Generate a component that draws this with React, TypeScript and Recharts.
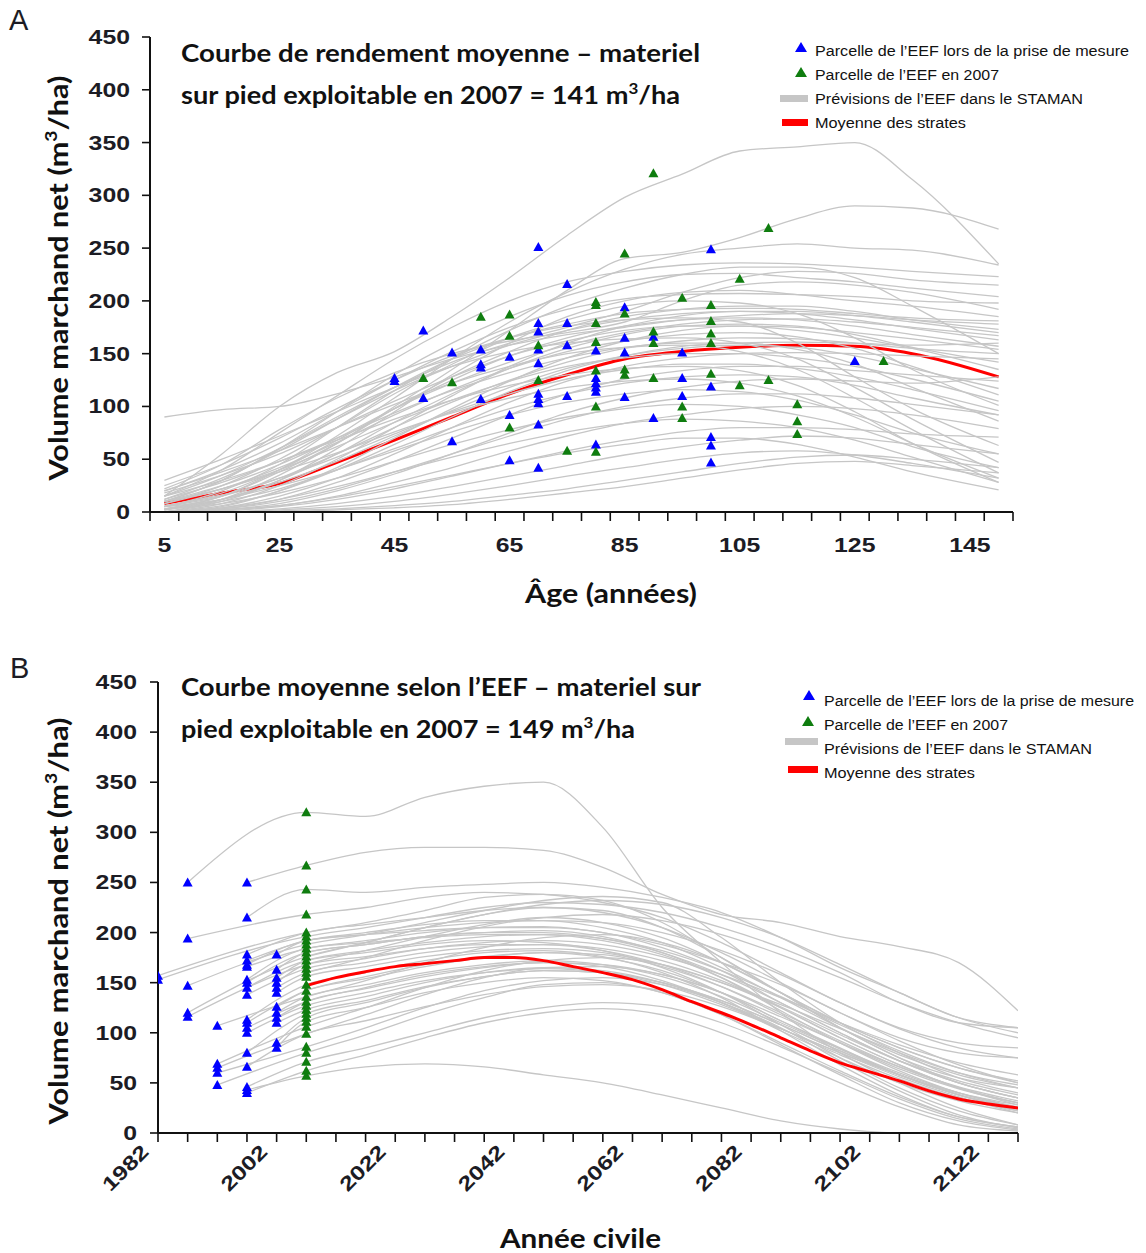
import React from "react";
import { ComposedChart, Line, Scatter, XAxis, YAxis } from "recharts";

// ---------- Panel A : volume by stand age ----------
const ageGrid = [5, 15, 25, 35, 45, 55, 65, 75, 85, 95, 105, 115, 125, 135, 150];

// STAMAN projections, one row per stand, values at ageGrid
const ageCurves: number[][] = [
  [15, 55, 100, 132, 152, 185, 222, 262, 298, 320, 342, 346, 350, 315, 235],
  [0, 12, 35, 65, 100, 135, 172, 210, 240, 246, 260, 278, 290, 288, 268],
  [2, 15, 40, 72, 108, 145, 180, 208, 230, 244, 250, 254, 250, 248, 234],
  [15, 40, 75, 110, 145, 175, 200, 218, 228, 234, 236, 235, 232, 228, 223],
  [10, 30, 60, 95, 130, 160, 185, 205, 218, 225, 226, 222, 218, 212, 204],
  [5, 20, 45, 80, 115, 145, 172, 195, 212, 225, 232, 232, 222, 195, 150],
  [20, 40, 65, 95, 125, 152, 175, 192, 202, 206, 207, 206, 204, 200, 198],
  [0, 10, 30, 60, 95, 130, 160, 185, 200, 208, 210, 206, 200, 195, 185],
  [8, 25, 50, 80, 112, 140, 165, 182, 195, 200, 198, 188, 165, 135, 101],
  [12, 32, 58, 88, 118, 145, 165, 178, 188, 192, 193, 192, 188, 184, 181],
  [3, 15, 38, 65, 98, 128, 152, 172, 185, 192, 195, 195, 190, 182, 173],
  [15, 35, 60, 88, 115, 138, 158, 172, 182, 188, 190, 188, 182, 174, 163],
  [0, 8, 25, 50, 80, 110, 138, 160, 176, 186, 190, 190, 186, 180, 170],
  [25, 45, 70, 98, 125, 148, 165, 176, 182, 184, 180, 160, 128, 98, 63],
  [5, 18, 40, 68, 98, 125, 148, 165, 176, 182, 184, 182, 176, 168, 157],
  [10, 25, 45, 70, 98, 122, 142, 158, 170, 178, 182, 183, 180, 175, 167],
  [2, 12, 30, 55, 85, 112, 136, 155, 168, 176, 178, 176, 168, 156, 142],
  [18, 35, 55, 80, 105, 128, 148, 162, 172, 176, 176, 172, 165, 155, 135],
  [0, 5, 20, 42, 70, 98, 124, 146, 162, 172, 176, 175, 170, 164, 154],
  [8, 22, 42, 66, 92, 116, 136, 152, 162, 168, 170, 166, 155, 138, 111],
  [30, 50, 72, 95, 118, 138, 152, 160, 164, 165, 160, 145, 118, 88, 47],
  [5, 15, 32, 55, 80, 104, 125, 142, 155, 162, 165, 164, 160, 155, 150],
  [12, 28, 48, 70, 94, 115, 132, 146, 156, 160, 160, 154, 140, 118, 86],
  [0, 6, 20, 40, 64, 90, 114, 134, 148, 157, 160, 161, 160, 158, 160],
  [20, 38, 58, 80, 102, 122, 138, 150, 156, 158, 152, 135, 108, 78, 37],
  [3, 12, 28, 48, 72, 96, 118, 136, 148, 155, 158, 156, 148, 136, 117],
  [10, 22, 40, 62, 85, 106, 124, 138, 146, 150, 150, 146, 138, 126, 105],
  [0, 4, 15, 32, 55, 80, 104, 124, 138, 146, 150, 151, 150, 148, 145],
  [15, 30, 48, 68, 88, 106, 120, 130, 136, 138, 134, 120, 95, 65, 28],
  [6, 16, 32, 52, 74, 95, 112, 126, 135, 140, 140, 136, 128, 116, 96],
  [0, 3, 12, 28, 48, 70, 92, 112, 126, 134, 138, 138, 134, 130, 124],
  [10, 22, 38, 56, 76, 94, 108, 118, 124, 126, 122, 110, 90, 65, 32],
  [2, 10, 22, 40, 60, 80, 98, 112, 122, 128, 130, 128, 120, 108, 92],
  [0, 2, 8, 20, 36, 55, 75, 94, 108, 118, 124, 126, 124, 122, 128],
  [5, 12, 25, 40, 58, 76, 92, 104, 112, 116, 114, 106, 92, 75, 55],
  [0, 3, 10, 22, 38, 55, 72, 88, 100, 108, 112, 112, 108, 102, 92],
  [3, 8, 18, 32, 48, 64, 78, 90, 98, 102, 100, 92, 80, 62, 42],
  [0, 2, 6, 15, 28, 42, 58, 72, 84, 92, 98, 100, 98, 92, 79],
  [0, 4, 12, 24, 38, 52, 65, 76, 84, 88, 86, 80, 68, 52, 28],
  [0, 1, 5, 12, 22, 34, 46, 58, 68, 76, 80, 80, 78, 74, 71],
  [0, 2, 6, 14, 24, 35, 46, 56, 64, 70, 70, 64, 52, 38, 21],
  [0, 0, 3, 8, 15, 24, 34, 44, 54, 62, 68, 72, 70, 64, 55],
  [0, 0, 2, 5, 10, 17, 25, 34, 42, 50, 56, 58, 54, 46, 32],
  [0, 0, 1, 3, 6, 10, 16, 22, 30, 38, 46, 52, 54, 50, 42],
  [0, 0, 0, 2, 4, 7, 12, 18, 24, 32, 40, 46, 48, 44, 37],
  [90, 97, 100, 112, 128, 145, 158, 168, 175, 182, 186, 188, 186, 182, 178],
  [22, 45, 78, 108, 132, 150, 162, 170, 180, 200, 215, 218, 215, 208, 192],
  [10, 30, 60, 90, 118, 142, 160, 175, 190, 208, 222, 228, 226, 220, 215],
];

// mean of the strata, values at ageGrid
const ageMean = [8, 18, 27, 47, 68, 90, 112, 130, 145, 152, 156, 158, 157, 150, 128];

// stand at time of measurement: [age, volume]
const ageBlue: [number, number][] = [
  [45, 127], [45, 124], [50, 172], [50, 108], [55, 151], [55, 67],
  [60, 154], [60, 140], [60, 137], [60, 107], [65, 147], [65, 92], [65, 49],
  [70, 251], [70, 179], [70, 171], [70, 154], [70, 141], [70, 112], [70, 107], [70, 103], [70, 83], [70, 42],
  [75, 216], [75, 179], [75, 158], [75, 110],
  [80, 153], [80, 127], [80, 122], [80, 118], [80, 114], [80, 64],
  [85, 194], [85, 165], [85, 151], [85, 109], [90, 166], [90, 89],
  [95, 151], [95, 127], [95, 110], [100, 249], [100, 119], [100, 71], [100, 63], [100, 47],
  [125, 143],
];

// stand in 2007: [age, volume]
const ageGreen: [number, number][] = [
  [50, 127], [55, 123], [60, 185], [65, 187], [65, 167], [65, 80], [70, 158], [70, 125], [75, 58],
  [80, 199], [80, 196], [80, 179], [80, 161], [80, 134], [80, 100], [80, 57],
  [85, 245], [85, 188], [85, 135], [85, 130], [90, 321], [90, 171], [90, 160], [90, 127],
  [95, 203], [95, 100], [95, 89], [100, 196], [100, 181], [100, 169], [100, 160], [100, 131],
  [105, 221], [105, 120], [110, 269], [110, 125], [115, 102], [115, 86], [115, 74], [130, 143],
];

const ageLabels = [5, 25, 45, 65, 85, 105, 125, 145];
const volTicks = [0, 50, 100, 150, 200, 250, 300, 350, 400, 450];

// ---------- Panel B : volume by calendar year ----------
const yearGrid = [2007, 2017, 2027, 2037, 2047, 2057, 2067, 2077, 2087, 2097, 2107, 2117, 2127];

// year of the first point of each curve (the measurement)
const yearStarts = [
  1987, 1997, 1997, 1987, 1982, 1982, 1987, 1987, 1987,
  1992, 1992, 1992, 1992, 1992,
  1997, 1997, 1997, 1997, 1997, 1997, 1997, 1997, 1997, 1997, 1997, 1997, 1997, 1997, 1997, 1997, 1997,
  2002, 2002, 2002, 2002, 2002, 2002, 2002, 2002, 2002, 2002, 2002, 2002,
  2007, 2007,
];

// first value at the start year, then values at yearGrid
const yearCurves: number[][] = [
  [250, 320, 316, 335, 346, 350, 305, 225, 170, 120, 80, 50, 25, 8],
  [250, 267, 280, 285, 285, 282, 265, 238, 218, 210, 196, 186, 170, 122],
  [215, 243, 240, 245, 248, 250, 245, 235, 220, 195, 165, 140, 115, 105],
  [194, 218, 225, 235, 240, 238, 230, 215, 190, 160, 130, 105, 90, 85],
  [157, 200, 210, 222, 235, 238, 232, 210, 175, 140, 110, 85, 65, 50],
  [153, 196, 205, 215, 225, 230, 228, 220, 205, 185, 160, 130, 110, 105],
  [147, 188, 198, 210, 222, 232, 236, 230, 195, 150, 110, 80, 55, 40],
  [120, 176, 190, 205, 218, 225, 222, 205, 175, 140, 105, 75, 55, 45],
  [116, 168, 182, 196, 208, 215, 210, 195, 170, 140, 110, 85, 65, 52],
  [107, 136, 152, 170, 185, 195, 198, 190, 170, 140, 105, 75, 50, 35],
  [69, 106, 125, 145, 162, 172, 175, 168, 150, 125, 95, 68, 45, 30],
  [65, 99, 118, 138, 155, 165, 166, 158, 140, 112, 85, 58, 38, 25],
  [60, 86, 105, 125, 142, 152, 155, 148, 130, 105, 72, 42, 18, 5],
  [48, 80, 98, 118, 135, 148, 150, 140, 118, 88, 58, 30, 12, 3],
  [178, 200, 208, 215, 222, 225, 220, 205, 180, 150, 120, 95, 80, 75],
  [172, 192, 200, 208, 212, 212, 205, 190, 165, 135, 105, 78, 58, 45],
  [168, 192, 198, 202, 205, 205, 200, 185, 162, 130, 100, 72, 50, 35],
  [166, 184, 192, 200, 205, 206, 200, 188, 170, 148, 120, 92, 68, 50],
  [153, 184, 190, 195, 198, 198, 192, 178, 155, 125, 95, 68, 45, 28],
  [150, 180, 188, 196, 200, 202, 196, 180, 155, 122, 90, 62, 40, 25],
  [145, 172, 180, 188, 192, 190, 182, 165, 140, 108, 75, 45, 22, 8],
  [138, 164, 174, 184, 190, 192, 188, 176, 158, 135, 110, 88, 70, 58],
  [113, 148, 160, 172, 180, 182, 176, 160, 135, 102, 68, 38, 16, 6],
  [110, 142, 156, 168, 176, 180, 175, 162, 140, 112, 84, 58, 38, 24],
  [105, 131, 145, 158, 166, 170, 166, 152, 130, 102, 75, 50, 32, 20],
  [100, 127, 140, 152, 160, 164, 160, 148, 128, 104, 80, 58, 40, 28],
  [80, 119, 132, 146, 156, 162, 160, 150, 132, 108, 82, 58, 38, 22],
  [66, 99, 112, 126, 138, 146, 148, 142, 126, 104, 80, 56, 36, 20],
  [46, 71, 85, 100, 115, 125, 130, 126, 110, 86, 60, 34, 14, 4],
  [43, 57, 66, 69, 66, 58, 50, 38, 25, 12, 4, 0, 0, 0],
  [40, 62, 78, 95, 110, 120, 124, 118, 100, 76, 50, 26, 8, 2],
  [178, 192, 198, 205, 210, 212, 210, 200, 182, 158, 130, 104, 85, 75],
  [163, 180, 188, 196, 200, 200, 194, 180, 158, 130, 100, 72, 50, 35],
  [155, 172, 182, 190, 196, 198, 194, 182, 162, 136, 108, 82, 60, 45],
  [150, 168, 176, 184, 188, 188, 182, 168, 146, 118, 90, 64, 44, 30],
  [145, 160, 170, 180, 186, 188, 184, 172, 152, 126, 98, 72, 52, 38],
  [140, 156, 166, 176, 182, 184, 180, 168, 150, 128, 104, 80, 60, 48],
  [126, 142, 154, 166, 175, 180, 178, 166, 146, 120, 92, 66, 45, 30],
  [120, 136, 148, 160, 168, 172, 168, 156, 136, 110, 84, 60, 40, 26],
  [115, 131, 144, 156, 165, 170, 168, 158, 140, 116, 90, 66, 46, 32],
  [110, 123, 136, 150, 160, 165, 162, 150, 130, 104, 78, 54, 35, 22],
  [90, 115, 130, 145, 156, 162, 160, 150, 132, 108, 82, 58, 38, 24],
  [85, 111, 125, 140, 150, 155, 152, 140, 118, 90, 62, 36, 16, 6],
  [176, 176, 190, 205, 218, 228, 232, 228, 215, 195, 168, 140, 115, 100],
  [160, 160, 175, 192, 206, 215, 218, 212, 198, 178, 155, 130, 110, 95],
];

const yearMeanYears = [
  2007, 2012, 2017, 2022, 2027, 2032, 2037, 2042, 2047, 2052, 2057, 2062, 2067,
  2072, 2077, 2082, 2087, 2092, 2097, 2102, 2107, 2112, 2117, 2122, 2127,
];
const yearMean = [
  147, 155, 161, 166, 169, 172, 175, 175, 172, 166, 160, 153, 143,
  131, 120, 108, 95, 82, 70, 61, 52, 42, 34, 29, 25,
];

const yearBlue: [number, number][] = [
  [1982, 157], [1982, 153],
  [1987, 250], [1987, 194], [1987, 147], [1987, 120], [1987, 116],
  [1992, 107], [1992, 69], [1992, 65], [1992, 60], [1992, 48],
  [1997, 250], [1997, 215], [1997, 178], [1997, 172], [1997, 168], [1997, 166], [1997, 153], [1997, 150],
  [1997, 145], [1997, 138], [1997, 113], [1997, 110], [1997, 105], [1997, 100], [1997, 80], [1997, 66],
  [1997, 46], [1997, 43], [1997, 40],
  [2002, 178], [2002, 163], [2002, 155], [2002, 150], [2002, 145], [2002, 140], [2002, 126], [2002, 120],
  [2002, 115], [2002, 110], [2002, 90], [2002, 85],
];

const yearGreen: [number, number][] = [
  [2007, 320], [2007, 267], [2007, 243], [2007, 218], [2007, 200], [2007, 196], [2007, 192], [2007, 188],
  [2007, 184], [2007, 180], [2007, 176], [2007, 172], [2007, 168], [2007, 164], [2007, 160], [2007, 156],
  [2007, 148], [2007, 142], [2007, 136], [2007, 131], [2007, 127], [2007, 123], [2007, 119], [2007, 115],
  [2007, 111], [2007, 106], [2007, 99], [2007, 86], [2007, 80], [2007, 71], [2007, 62], [2007, 57],
];

const yearLabels = [1982, 2002, 2022, 2042, 2062, 2082, 2102, 2122];

// ---------- shared styling ----------
const GRAY = "#c6c6c6";
const BLUE = "#0000ff";
const GREEN = "#0f7d0f";
const RED = "#ff0000";
const TICK_FONT = "'Liberation Sans', Arial, sans-serif";
const TITLE_FONT = "Lato, 'Open Sans', sans-serif";
const NARROW_FONT = "'Liberation Sans Narrow', 'Liberation Sans', Arial, sans-serif";

const ageMarks = Array.from({ length: 31 }, (_, i) => 2.5 + 5 * i);
const yearMarks = Array.from({ length: 30 }, (_, i) => 1982 + 5 * i);

const toPts = (pairs: [number, number][]) => pairs.map(([x, y]) => ({ x, y }));
const ageSeries = ageCurves.map((vals) => vals.map((v, i) => ({ x: ageGrid[i], y: v })));
const ageMeanPts = ageMean.map((v, i) => ({ x: ageGrid[i], y: v }));
const yearSeries = yearCurves.map((vals, k) =>
  vals.map((v, i) => ({ x: i === 0 ? yearStarts[k] : yearGrid[i - 1], y: v }))
);
const yearMeanPts = yearMean.map((v, i) => ({ x: yearMeanYears[i], y: v }));

const tri = (color: string) => (p: any) => {
  const { cx, cy } = p;
  if (cx == null || cy == null) return <g />;
  return (
    <polygon
      points={`${cx},${cy - 5} ${cx + 5},${cy + 4} ${cx - 5},${cy + 4}`}
      fill={color}
    />
  );
};

const makeVolTick = (rightX: number) => (props: any) => {
  const { y, payload } = props;
  const s = String(payload.value);
  return (
    <text
      x={rightX}
      y={y + 7}
      textAnchor="end"
      fontFamily={TICK_FONT}
      fontWeight={700}
      fontSize={20}
      fill="#1c1c24"
      textLength={s.length * 13.8}
      lengthAdjust="spacingAndGlyphs"
    >
      {s}
    </text>
  );
};

const makeAgeTick = (axisY: number) => (props: any) => {
  const { x, payload } = props;
  const v = payload.value;
  if (ageLabels.includes(v)) {
    const s = String(v);
    return (
      <text
        x={x}
        y={axisY + 40}
        textAnchor="middle"
        fontFamily={TICK_FONT}
        fontWeight={700}
        fontSize={20}
        fill="#1c1c24"
        textLength={s.length * 13.8}
        lengthAdjust="spacingAndGlyphs"
      >
        {s}
      </text>
    );
  }
  return <line x1={x} x2={x} y1={axisY} y2={axisY + 9} stroke="#111" strokeWidth={1.6} />;
};

const makeYearTick = (axisY: number) => (props: any) => {
  const { x, payload } = props;
  const v = payload.value;
  const s = String(v);
  return (
    <g>
      <line x1={x} x2={x} y1={axisY} y2={axisY + 9} stroke="#111" strokeWidth={1.6} />
      {yearLabels.includes(v) && (
        <text
          x={0}
          y={0}
          transform={`translate(${x - 8},${axisY + 20}) rotate(-45)`}
          textAnchor="end"
          fontFamily={TICK_FONT}
          fontWeight={700}
          fontSize={20}
          fill="#1c1c24"
          textLength={56}
          lengthAdjust="spacingAndGlyphs"
        >
          {s}
        </text>
      )}
    </g>
  );
};

function AgeChart() {
  return (
    <ComposedChart width={1146} height={620} margin={{ top: 37, right: 133, left: 90, bottom: 0 }}>
      <XAxis
        type="number"
        dataKey="x"
        domain={[2.5, 152.5]}
        ticks={[...ageMarks, ...ageLabels].sort((a, b) => a - b)}
        interval={0}
        tick={makeAgeTick(512)}
        tickLine={false}
        axisLine={{ stroke: "#111", strokeWidth: 2 }}
        height={108}
        allowDataOverflow
      />
      <YAxis
        type="number"
        dataKey="y"
        domain={[0, 450]}
        ticks={volTicks}
        interval={0}
        width={60}
        tick={makeVolTick(130)}
        tickSize={8}
        tickLine={{ stroke: "#111", strokeWidth: 1.6 }}
        axisLine={{ stroke: "#111", strokeWidth: 2 }}
        allowDataOverflow
      />
      <Line
        data={ageMeanPts}
        dataKey="y"
        type="monotone"
        stroke={RED}
        strokeWidth={3}
        dot={false}
        activeDot={false}
        isAnimationActive={false}
      />
      {ageSeries.map((pts, i) => (
        <Line
          key={"a" + i}
          data={pts}
          dataKey="y"
          type="monotone"
          stroke={GRAY}
          strokeWidth={1.3}
          dot={false}
          activeDot={false}
          isAnimationActive={false}
        />
      ))}
      <Scatter data={toPts(ageBlue)} dataKey="y" shape={tri(BLUE)} isAnimationActive={false} />
      <Scatter data={toPts(ageGreen)} dataKey="y" shape={tri(GREEN)} isAnimationActive={false} />
    </ComposedChart>
  );
}

function YearChart() {
  return (
    <ComposedChart width={1146} height={613} margin={{ top: 42, right: 128, left: 98, bottom: 0 }}>
      <XAxis
        type="number"
        dataKey="x"
        domain={[1982, 2127]}
        ticks={yearMarks}
        interval={0}
        tick={makeYearTick(493)}
        tickLine={false}
        axisLine={{ stroke: "#111", strokeWidth: 2 }}
        height={120}
        allowDataOverflow
      />
      <YAxis
        type="number"
        dataKey="y"
        domain={[0, 450]}
        ticks={volTicks}
        interval={0}
        width={60}
        tick={makeVolTick(137)}
        tickSize={8}
        tickLine={{ stroke: "#111", strokeWidth: 1.6 }}
        axisLine={{ stroke: "#111", strokeWidth: 2 }}
        allowDataOverflow
      />
      {yearSeries.map((pts, i) => (
        <Line
          key={"b" + i}
          data={pts}
          dataKey="y"
          type="monotone"
          stroke={GRAY}
          strokeWidth={1.3}
          dot={false}
          activeDot={false}
          isAnimationActive={false}
        />
      ))}
      <Line
        data={yearMeanPts}
        dataKey="y"
        type="monotone"
        stroke={RED}
        strokeWidth={3}
        dot={false}
        activeDot={false}
        isAnimationActive={false}
      />
      <Scatter data={toPts(yearBlue)} dataKey="y" shape={tri(BLUE)} isAnimationActive={false} />
      <Scatter data={toPts(yearGreen)} dataKey="y" shape={tri(GREEN)} isAnimationActive={false} />
    </ComposedChart>
  );
}

const legendTri = (cx: number, cy: number, color: string) => (
  <polygon points={`${cx},${cy - 6} ${cx + 6},${cy + 4} ${cx - 6},${cy + 4}`} fill={color} />
);

function Overlay() {
  const title = { fontFamily: TITLE_FONT, fontWeight: 700, fontSize: 24, fill: "#111" } as const;
  const leg = { fontFamily: NARROW_FONT, fontSize: 15.5, fill: "#111" } as const;
  const axisTitle = { fontFamily: TITLE_FONT, fontWeight: 700, fontSize: 27, fill: "#111" } as const;
  return (
    <svg
      width={1146}
      height={1253}
      style={{ position: "absolute", left: 0, top: 0, pointerEvents: "none" }}
    >
      {/* panel A */}
      <text x={9} y={30} fontFamily={TICK_FONT} fontSize={29} fill="#1c1c24">A</text>
      <text x={181} y={62} {...title} textLength={519} lengthAdjust="spacingAndGlyphs">
        Courbe de rendement moyenne – materiel
      </text>
      <text x={181} y={104} {...title} textLength={499} lengthAdjust="spacingAndGlyphs">
        sur pied exploitable en 2007 = 141 m<tspan dy={-10} fontSize={15}>3</tspan>
        <tspan dy={10}>/ha</tspan>
      </text>
      {legendTri(801, 48, BLUE)}
      {legendTri(801, 73, GREEN)}
      <rect x={780} y={95} width={28} height={7} fill={GRAY} />
      <rect x={782} y={119} width={26} height={7} fill={RED} />
      <text x={815} y={56} {...leg} textLength={314} lengthAdjust="spacingAndGlyphs">Parcelle de l’EEF lors de la prise de mesure</text>
      <text x={815} y={80} {...leg} textLength={184} lengthAdjust="spacingAndGlyphs">Parcelle de l’EEF en 2007</text>
      <text x={815} y={104} {...leg} textLength={268} lengthAdjust="spacingAndGlyphs">Prévisions de l’EEF dans le STAMAN</text>
      <text x={815} y={128} {...leg} textLength={151} lengthAdjust="spacingAndGlyphs">Moyenne des strates</text>
      <text transform="translate(68,278) rotate(-90)" textAnchor="middle" {...axisTitle} textLength={405} lengthAdjust="spacingAndGlyphs">
        Volume marchand net (m<tspan dy={-11} fontSize={17}>3</tspan>
        <tspan dy={11}>/ha)</tspan>
      </text>
      <text x={525} y={603} {...axisTitle} textLength={172} lengthAdjust="spacingAndGlyphs">Âge (années)</text>

      {/* panel B */}
      <text x={10} y={678} fontFamily={TICK_FONT} fontSize={29} fill="#1c1c24">B</text>
      <text x={181} y={696} {...title} textLength={520} lengthAdjust="spacingAndGlyphs">
        Courbe moyenne selon l’EEF – materiel sur
      </text>
      <text x={181} y={738} {...title} textLength={454} lengthAdjust="spacingAndGlyphs">
        pied exploitable en 2007 = 149 m<tspan dy={-10} fontSize={15}>3</tspan>
        <tspan dy={10}>/ha</tspan>
      </text>
      {legendTri(809, 696, BLUE)}
      {legendTri(808, 722, GREEN)}
      <rect x={785} y={738} width={33} height={7} fill={GRAY} />
      <rect x={788} y={766} width={30} height={7} fill={RED} />
      <text x={824} y={706} {...leg} textLength={310} lengthAdjust="spacingAndGlyphs">Parcelle de l’EEF lors de la prise de mesure</text>
      <text x={824} y={730} {...leg} textLength={184} lengthAdjust="spacingAndGlyphs">Parcelle de l’EEF en 2007</text>
      <text x={824} y={754} {...leg} textLength={268} lengthAdjust="spacingAndGlyphs">Prévisions de l’EEF dans le STAMAN</text>
      <text x={824} y={778} {...leg} textLength={151} lengthAdjust="spacingAndGlyphs">Moyenne des strates</text>
      <text transform="translate(68,921) rotate(-90)" textAnchor="middle" {...axisTitle} textLength={407} lengthAdjust="spacingAndGlyphs">
        Volume marchand net (m<tspan dy={-11} fontSize={17}>3</tspan>
        <tspan dy={11}>/ha)</tspan>
      </text>
      <text x={500} y={1248} {...axisTitle} textLength={161} lengthAdjust="spacingAndGlyphs">Année civile</text>
    </svg>
  );
}

export default function App() {
  return (
    <div style={{ position: "absolute", left: 0, top: 0, width: 1146, height: 1253, background: "#fff" }}>
      <div style={{ position: "absolute", left: 0, top: 0 }}>
        <AgeChart />
      </div>
      <div style={{ position: "absolute", left: 0, top: 640 }}>
        <YearChart />
      </div>
      <Overlay />
    </div>
  );
}
